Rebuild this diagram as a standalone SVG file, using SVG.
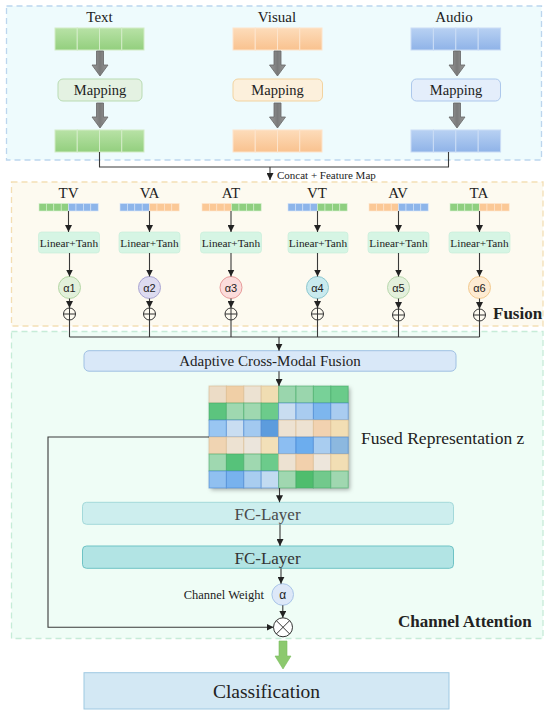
<svg xmlns="http://www.w3.org/2000/svg" width="550" height="715" viewBox="0 0 550 715">
<defs>
<style>
.serif{font-family:"Liberation Serif","Times New Roman",serif;fill:#222}
.sans{font-family:"Liberation Sans",Arial,sans-serif;fill:#222}
.ln{stroke:#3a3a3a;stroke-width:1.1;fill:none}
.arr{stroke:#3a3a3a;stroke-width:1.1;fill:none;marker-end:url(#ah)}
.gcell{fill:url(#gG);stroke:#d2ecc6;stroke-width:1}
.ocell{fill:url(#gO);stroke:#fde4cb;stroke-width:1}
.bcell{fill:url(#gB);stroke:#cadcf5;stroke-width:1}
.sg{fill:#8fcf80;stroke:#d8f0d0;stroke-width:0.6}
.so{fill:#fbc896;stroke:#fde6d0;stroke-width:0.6}
.sb{fill:#8db5ea;stroke:#d6e4f8;stroke-width:0.6}
.lt{fill:#d6f5e4;stroke:#c4ecd6;stroke-width:0.6}
.hg{stroke:#3fa862;stroke-opacity:0.55;stroke-width:1}
.hb{stroke:#3f7fd0;stroke-opacity:0.55;stroke-width:1}
.ho{stroke:#d8b88a;stroke-opacity:0.55;stroke-width:1}
.opl{fill:none;stroke:#333;stroke-width:1}
</style>
<marker id="ah" viewBox="0 0 10 10" refX="10" refY="5" markerWidth="7" markerHeight="7" markerUnits="userSpaceOnUse" orient="auto">
<path d="M0,0 L10,5 L0,10 Z" fill="#222"/>
</marker>
<linearGradient id="gG" x1="0" y1="0" x2="0" y2="1"><stop offset="0" stop-color="#b8e2a6"/><stop offset="1" stop-color="#93cf7e"/></linearGradient>
<linearGradient id="gO" x1="0" y1="0" x2="0" y2="1"><stop offset="0" stop-color="#fddcba"/><stop offset="1" stop-color="#f9c28f"/></linearGradient>
<linearGradient id="gB" x1="0" y1="0" x2="0" y2="1"><stop offset="0" stop-color="#b8d1f3"/><stop offset="1" stop-color="#8fb3e8"/></linearGradient>
<linearGradient id="gA" x1="0" y1="0" x2="1" y2="0"><stop offset="0" stop-color="#9a9a9a"/><stop offset="0.5" stop-color="#7a7a7a"/><stop offset="1" stop-color="#9a9a9a"/></linearGradient>
<filter id="sh" x="-10%" y="-10%" width="125%" height="125%"><feDropShadow dx="2" dy="2" stdDeviation="2" flood-color="#000" flood-opacity="0.3"/></filter>
<g id="garrow"><path d="M-3.5,0 H3.5 V14 H8 L0,25 L-8,14 H-3.5 Z" fill="url(#gA)" stroke="#666" stroke-width="0.8"/></g>
</defs>

<!-- panels -->
<rect x="6.5" y="6" width="535" height="154" fill="#eefbfd" stroke="#bcd6ee" stroke-width="1.3" stroke-dasharray="6,4"/>
<rect x="11.5" y="182" width="531.5" height="144" fill="#fdfaf0" stroke="#f3dfb5" stroke-width="1.3" stroke-dasharray="6,4"/>
<rect x="11.5" y="331.5" width="531.5" height="307" fill="#effdf6" stroke="#c6ecd8" stroke-width="1.3" stroke-dasharray="6,4"/>

<!-- Input modality columns -->
<g id="text-col">
<text class="serif" x="99.5" y="22" font-size="15" text-anchor="middle">Text</text>
<g><rect class="gcell" x="55" y="28" width="22.25" height="22"/><rect class="gcell" x="77.25" y="28" width="22.25" height="22"/><rect class="gcell" x="99.5" y="28" width="22.25" height="22"/><rect class="gcell" x="121.75" y="28" width="22.25" height="22"/></g>
<use href="#garrow" x="100" y="51"/>
<rect x="58" y="79" width="84" height="22" rx="5" fill="#e4f2e2" stroke="#b9dbb3"/>
<text class="serif" x="100" y="95" font-size="14.5" text-anchor="middle">Mapping</text>
<use href="#garrow" x="100" y="103"/>
<g><rect class="gcell" x="55" y="130" width="22.25" height="22"/><rect class="gcell" x="77.25" y="130" width="22.25" height="22"/><rect class="gcell" x="99.5" y="130" width="22.25" height="22"/><rect class="gcell" x="121.75" y="130" width="22.25" height="22"/></g>
</g>

<g id="visual-col">
<text class="serif" x="277" y="22" font-size="15" text-anchor="middle">Visual</text>
<g><rect class="ocell" x="233" y="28" width="22.25" height="22"/><rect class="ocell" x="255.25" y="28" width="22.25" height="22"/><rect class="ocell" x="277.5" y="28" width="22.25" height="22"/><rect class="ocell" x="299.75" y="28" width="22.25" height="22"/></g>
<use href="#garrow" x="277.5" y="51"/>
<rect x="233" y="79" width="89.5" height="22" rx="5" fill="#fcf0dc" stroke="#f2d3a0"/>
<text class="serif" x="277.5" y="95" font-size="14.5" text-anchor="middle">Mapping</text>
<use href="#garrow" x="277.5" y="103"/>
<g><rect class="ocell" x="233" y="130" width="22.25" height="22"/><rect class="ocell" x="255.25" y="130" width="22.25" height="22"/><rect class="ocell" x="277.5" y="130" width="22.25" height="22"/><rect class="ocell" x="299.75" y="130" width="22.25" height="22"/></g>
</g>

<g id="audio-col">
<text class="serif" x="454" y="22" font-size="15" text-anchor="middle">Audio</text>
<g><rect class="bcell" x="411" y="28" width="22.4" height="22"/><rect class="bcell" x="433.4" y="28" width="22.4" height="22"/><rect class="bcell" x="455.8" y="28" width="22.4" height="22"/><rect class="bcell" x="478.2" y="28" width="22.4" height="22"/></g>
<use href="#garrow" x="457" y="51"/>
<rect x="411.5" y="79" width="89" height="22" rx="5" fill="#e4eefb" stroke="#adc8ec"/>
<text class="serif" x="456" y="95" font-size="14.5" text-anchor="middle">Mapping</text>
<use href="#garrow" x="457" y="103"/>
<g><rect class="bcell" x="411" y="130" width="22.4" height="22"/><rect class="bcell" x="433.4" y="130" width="22.4" height="22"/><rect class="bcell" x="455.8" y="130" width="22.4" height="22"/><rect class="bcell" x="478.2" y="130" width="22.4" height="22"/></g>
</g>

<text class="serif" x="277" y="178.5" font-size="11">Concat + Feature Map</text>

<!-- Fusion pair columns -->
<g id="pair-TV">
<text class="serif" x="68.5" y="198" font-size="15" text-anchor="middle">TV</text>
<rect class="sg" x="39" y="203.5" width="7.4" height="7.5"/><rect class="sg" x="46.4" y="203.5" width="7.4" height="7.5"/><rect class="sg" x="53.8" y="203.5" width="7.4" height="7.5"/><rect class="sg" x="61.2" y="203.5" width="7.4" height="7.5"/>
<rect class="sb" x="68.6" y="203.5" width="7.4" height="7.5"/><rect class="sb" x="76" y="203.5" width="7.4" height="7.5"/><rect class="sb" x="83.4" y="203.5" width="7.4" height="7.5"/><rect class="sb" x="90.8" y="203.5" width="7.4" height="7.5"/>
<rect class="lt" x="38.5" y="232" width="61" height="21" rx="3"/>
<text class="serif" x="69" y="246.5" font-size="11.3" text-anchor="middle">Linear+Tanh</text>
<circle cx="69.5" cy="287.5" r="11" fill="#e2f0da" stroke="#b4d6a4"/>
<text class="sans" x="69.5" y="291.5" font-size="11" text-anchor="middle">α1</text>
<circle class="opl" cx="69.5" cy="314" r="6"/><path class="opl" d="M63.5,314 H75.5 M69.5,308 V320"/>
</g>

<g id="pair-VA">
<text class="serif" x="149.5" y="198" font-size="15" text-anchor="middle">VA</text>
<rect class="sb" x="120" y="203.5" width="7.4" height="7.5"/><rect class="sb" x="127.4" y="203.5" width="7.4" height="7.5"/><rect class="sb" x="134.8" y="203.5" width="7.4" height="7.5"/><rect class="sb" x="142.2" y="203.5" width="7.4" height="7.5"/>
<rect class="so" x="149.6" y="203.5" width="7.4" height="7.5"/><rect class="so" x="157" y="203.5" width="7.4" height="7.5"/><rect class="so" x="164.4" y="203.5" width="7.4" height="7.5"/><rect class="so" x="171.8" y="203.5" width="7.4" height="7.5"/>
<rect class="lt" x="119" y="232" width="61" height="21" rx="3"/>
<text class="serif" x="149.5" y="246.5" font-size="11.3" text-anchor="middle">Linear+Tanh</text>
<circle cx="149.5" cy="287.5" r="11" fill="#dddbf0" stroke="#aaa5d2"/>
<text class="sans" x="149.5" y="291.5" font-size="11" text-anchor="middle">α2</text>
<circle class="opl" cx="149.5" cy="314" r="6"/><path class="opl" d="M143.5,314 H155.5 M149.5,308 V320"/>
</g>

<g id="pair-AT">
<text class="serif" x="231" y="198" font-size="15" text-anchor="middle">AT</text>
<rect class="so" x="202" y="203.5" width="7.4" height="7.5"/><rect class="so" x="209.4" y="203.5" width="7.4" height="7.5"/><rect class="so" x="216.8" y="203.5" width="7.4" height="7.5"/><rect class="so" x="224.2" y="203.5" width="7.4" height="7.5"/>
<rect class="sg" x="231.6" y="203.5" width="7.4" height="7.5"/><rect class="sg" x="239" y="203.5" width="7.4" height="7.5"/><rect class="sg" x="246.4" y="203.5" width="7.4" height="7.5"/><rect class="sg" x="253.8" y="203.5" width="7.4" height="7.5"/>
<rect class="lt" x="200.5" y="232" width="61" height="21" rx="3"/>
<text class="serif" x="231" y="246.5" font-size="11.3" text-anchor="middle">Linear+Tanh</text>
<circle cx="231" cy="287.5" r="11" fill="#fbdcdb" stroke="#e79c9a"/>
<text class="sans" x="231" y="291.5" font-size="11" text-anchor="middle">α3</text>
<circle class="opl" cx="231" cy="314" r="6"/><path class="opl" d="M225,314 H237 M231,308 V320"/>
</g>

<g id="pair-VT">
<text class="serif" x="317" y="198" font-size="15" text-anchor="middle">VT</text>
<rect class="sb" x="288" y="203.5" width="7.4" height="7.5"/><rect class="sb" x="295.4" y="203.5" width="7.4" height="7.5"/><rect class="sb" x="302.8" y="203.5" width="7.4" height="7.5"/><rect class="sb" x="310.2" y="203.5" width="7.4" height="7.5"/>
<rect class="sg" x="317.6" y="203.5" width="7.4" height="7.5"/><rect class="sg" x="325" y="203.5" width="7.4" height="7.5"/><rect class="sg" x="332.4" y="203.5" width="7.4" height="7.5"/><rect class="sg" x="339.8" y="203.5" width="7.4" height="7.5"/>
<rect class="lt" x="288" y="232" width="60" height="21" rx="3"/>
<text class="serif" x="318" y="246.5" font-size="11.3" text-anchor="middle">Linear+Tanh</text>
<circle cx="317.5" cy="287.5" r="11" fill="#c9eaee" stroke="#8ec8d0"/>
<text class="sans" x="317.5" y="291.5" font-size="11" text-anchor="middle">α4</text>
<circle class="opl" cx="317.5" cy="314" r="6"/><path class="opl" d="M311.5,314 H323.5 M317.5,308 V320"/>
</g>

<g id="pair-AV">
<text class="serif" x="398" y="198" font-size="15" text-anchor="middle">AV</text>
<rect class="so" x="369" y="203.5" width="7.4" height="7.5"/><rect class="so" x="376.4" y="203.5" width="7.4" height="7.5"/><rect class="so" x="383.8" y="203.5" width="7.4" height="7.5"/><rect class="so" x="391.2" y="203.5" width="7.4" height="7.5"/>
<rect class="sb" x="398.6" y="203.5" width="7.4" height="7.5"/><rect class="sb" x="406" y="203.5" width="7.4" height="7.5"/><rect class="sb" x="413.4" y="203.5" width="7.4" height="7.5"/><rect class="sb" x="420.8" y="203.5" width="7.4" height="7.5"/>
<rect class="lt" x="368" y="232" width="61" height="21" rx="3"/>
<text class="serif" x="398.5" y="246.5" font-size="11.3" text-anchor="middle">Linear+Tanh</text>
<circle cx="398.5" cy="287.5" r="11" fill="#e4f0dc" stroke="#b9d8ad"/>
<text class="sans" x="398.5" y="291.5" font-size="11" text-anchor="middle">α5</text>
<circle class="opl" cx="398.5" cy="315" r="6"/><path class="opl" d="M392.5,315 H404.5 M398.5,309 V321"/>
</g>

<g id="pair-TA">
<text class="serif" x="479" y="198" font-size="15" text-anchor="middle">TA</text>
<rect class="sg" x="450" y="203.5" width="7.4" height="7.5"/><rect class="sg" x="457.4" y="203.5" width="7.4" height="7.5"/><rect class="sg" x="464.8" y="203.5" width="7.4" height="7.5"/><rect class="sg" x="472.2" y="203.5" width="7.4" height="7.5"/>
<rect class="so" x="479.6" y="203.5" width="7.4" height="7.5"/><rect class="so" x="487" y="203.5" width="7.4" height="7.5"/><rect class="so" x="494.4" y="203.5" width="7.4" height="7.5"/><rect class="so" x="501.8" y="203.5" width="7.4" height="7.5"/>
<rect class="lt" x="449" y="232" width="61" height="21" rx="3"/>
<text class="serif" x="479.5" y="246.5" font-size="11.3" text-anchor="middle">Linear+Tanh</text>
<circle cx="479.5" cy="287.5" r="11" fill="#fdebd2" stroke="#f2c98e"/>
<text class="sans" x="479.5" y="291.5" font-size="11" text-anchor="middle">α6</text>
<circle class="opl" cx="479.5" cy="315" r="6"/><path class="opl" d="M473.5,315 H485.5 M479.5,309 V321"/>
</g>

<text id="fusion-label" class="serif" x="493" y="319" font-size="17" font-weight="bold">Fusion</text>

<!-- Adaptive fusion -->
<g id="adaptive">
<rect x="84" y="350.7" width="372" height="20.5" rx="5" fill="#d9e8f8" stroke="#9fc0e3"/>
<text class="serif" x="270" y="366" font-size="15" text-anchor="middle">Adaptive Cross-Modal Fusion</text>
</g>

<!-- Heatmap -->
<g id="fused-z">
<g filter="url(#sh)">
<rect x="209" y="386" width="139" height="102" fill="#eee"/>
</g>
<g>
<rect class="ho" x="209" y="386" width="17.4" height="17" fill="#ecdcc6"/><rect class="ho" x="226.4" y="386" width="17.4" height="17" fill="#f0cfa6"/><rect class="ho" x="243.8" y="386" width="17.4" height="17" fill="#ece2d2"/><rect class="ho" x="261.2" y="386" width="17.4" height="17" fill="#f0ddb2"/>
<rect class="hg" x="278.6" y="386" width="17.4" height="17" fill="#9ad6ad"/><rect class="hg" x="296" y="386" width="17.4" height="17" fill="#9ad6ad"/><rect class="hg" x="313.4" y="386" width="17.4" height="17" fill="#78d198"/><rect class="hg" x="330.8" y="386" width="17.4" height="17" fill="#6acb8a"/>

<rect class="hg" x="209" y="403" width="17.4" height="17" fill="#5cc47e"/><rect class="hg" x="226.4" y="403" width="17.4" height="17" fill="#9fd8b0"/><rect class="hg" x="243.8" y="403" width="17.4" height="17" fill="#9fd8b0"/><rect class="hg" x="261.2" y="403" width="17.4" height="17" fill="#6ccb8b"/>
<rect class="hb" x="278.6" y="403" width="17.4" height="17" fill="#c9ddf1"/><rect class="hb" x="296" y="403" width="17.4" height="17" fill="#a9ccf0"/><rect class="hb" x="313.4" y="403" width="17.4" height="17" fill="#7db6ee"/><rect class="hb" x="330.8" y="403" width="17.4" height="17" fill="#a9ccf0"/>

<rect class="hb" x="209" y="420" width="17.4" height="17" fill="#99c6f2"/><rect class="hb" x="226.4" y="420" width="17.4" height="17" fill="#c9ddf1"/><rect class="hb" x="243.8" y="420" width="17.4" height="17" fill="#a2c9f0"/><rect class="hb" x="261.2" y="420" width="17.4" height="17" fill="#5c9cdd"/>
<rect class="ho" x="278.6" y="420" width="17.4" height="17" fill="#ede2d2"/><rect class="ho" x="296" y="420" width="17.4" height="17" fill="#ede2d2"/><rect class="ho" x="313.4" y="420" width="17.4" height="17" fill="#f2d2b0"/><rect class="ho" x="330.8" y="420" width="17.4" height="17" fill="#f2deb4"/>

<rect class="ho" x="209" y="437" width="17.4" height="17" fill="#f0d4b2"/><rect class="ho" x="226.4" y="437" width="17.4" height="17" fill="#ede2d2"/><rect class="ho" x="243.8" y="437" width="17.4" height="17" fill="#ebe5dc"/><rect class="ho" x="261.2" y="437" width="17.4" height="17" fill="#f2e0b8"/>
<rect class="hb" x="278.6" y="437" width="17.4" height="17" fill="#8cbef2"/><rect class="hb" x="296" y="437" width="17.4" height="17" fill="#6cadee"/><rect class="hb" x="313.4" y="437" width="17.4" height="17" fill="#a9cdf0"/><rect class="hb" x="330.8" y="437" width="17.4" height="17" fill="#8cb8df"/>

<rect class="hg" x="209" y="454" width="17.4" height="17" fill="#9fd8b0"/><rect class="hg" x="226.4" y="454" width="17.4" height="17" fill="#56c27a"/><rect class="hg" x="243.8" y="454" width="17.4" height="17" fill="#9fd8b0"/><rect class="hg" x="261.2" y="454" width="17.4" height="17" fill="#6ccb8b"/>
<rect class="ho" x="278.6" y="454" width="17.4" height="17" fill="#ede2d2"/><rect class="ho" x="296" y="454" width="17.4" height="17" fill="#f2d0ac"/><rect class="ho" x="313.4" y="454" width="17.4" height="17" fill="#ede6dc"/><rect class="ho" x="330.8" y="454" width="17.4" height="17" fill="#f2deb4"/>

<rect class="hb" x="209" y="471" width="17.4" height="17" fill="#90c0f0"/><rect class="hb" x="226.4" y="471" width="17.4" height="17" fill="#78b2ee"/><rect class="hb" x="243.8" y="471" width="17.4" height="17" fill="#a9cdf0"/><rect class="hb" x="261.2" y="471" width="17.4" height="17" fill="#c2dbf1"/>
<rect class="hg" x="278.6" y="471" width="17.4" height="17" fill="#a0d7b0"/><rect class="hg" x="296" y="471" width="17.4" height="17" fill="#4fbd6d"/><rect class="hg" x="313.4" y="471" width="17.4" height="17" fill="#72c98c"/><rect class="hg" x="330.8" y="471" width="17.4" height="17" fill="#a0d7b0"/>
</g>
<text class="serif" x="361" y="444" font-size="17.5">Fused Representation z</text>
</g>

<!-- Channel attention -->
<g id="fc1">
<rect x="82.5" y="502.3" width="371" height="22" rx="4" fill="#cdeeee" stroke="#a3d9da"/>
<text class="serif" x="267.5" y="519.5" font-size="17" text-anchor="middle" style="fill:#4a4a4a">FC-Layer</text>
</g>
<g id="fc2">
<rect x="82.5" y="546" width="371" height="22.3" rx="4" fill="#b2e4e4" stroke="#6ec3c5"/>
<text class="serif" x="267.5" y="563.5" font-size="17" text-anchor="middle" style="fill:#333">FC-Layer</text>
</g>
<g id="channel-weight">
<circle cx="282.7" cy="594.5" r="10.8" fill="#dde8f8" stroke="#a9c5e8"/>
<text class="sans" x="282.7" y="599" font-size="12" text-anchor="middle">α</text>
<text class="serif" x="264" y="598.5" font-size="12.5" text-anchor="end">Channel Weight</text>
</g>
<g id="multiply">
<circle cx="283" cy="627.3" r="9.5" fill="#fff" stroke="#333" stroke-width="1"/>
<path class="opl" d="M276.3,620.6 L289.7,634 M289.7,620.6 L276.3,634"/>
</g>
<text id="ca-label" class="serif" x="398" y="627" font-size="17" font-weight="bold">Channel Attention</text>

<g id="classification">
<path d="M279,641 H287 V656 H291 L283,669 L275,656 H279 Z" fill="#8cc96e" stroke="#7bbd5e" stroke-width="0.6"/>
<rect x="84" y="672.7" width="365" height="36.3" fill="#d3e8f4" stroke="#9ec9e2"/>
<text class="serif" x="266.5" y="697.5" font-size="19.5" text-anchor="middle">Classification</text>
</g>

<!-- connectors -->
<g id="connectors">
<path class="ln" d="M99.5,152 V167 H448.5 V152"/>
<path class="arr" d="M270,167 V180"/>
<path class="arr" d="M68.5,211 V232"/><path class="arr" d="M69.5,253 V276.5"/><path class="arr" d="M69.5,298.5 V308"/>
<path class="arr" d="M149.5,211 V232"/><path class="arr" d="M149.5,253 V276.5"/><path class="arr" d="M149.5,298.5 V308"/>
<path class="arr" d="M231,211 V232"/><path class="arr" d="M231,253 V276.5"/><path class="arr" d="M231,298.5 V308"/>
<path class="arr" d="M317.5,211 V232"/><path class="arr" d="M317.5,253 V276.5"/><path class="arr" d="M317.5,298.5 V308"/>
<path class="arr" d="M398.5,211 V232"/><path class="arr" d="M398.5,253 V276.5"/><path class="arr" d="M398.5,298.5 V309"/>
<path class="arr" d="M479.5,211 V232"/><path class="arr" d="M479.5,253 V276.5"/><path class="arr" d="M479.5,298.5 V309"/>
<path class="ln" d="M69.5,320 V337 M149.5,320 V337 M231,320 V337 M317.5,320 V337 M398.5,321 V337 M479.5,321 V337 M69.5,337 H479.5"/>
<path class="arr" d="M279,337 V350.7"/>
<path class="arr" d="M279,371.2 V386"/>
<path class="arr" d="M279.5,488 V502.3"/>
<path class="arr" d="M280,524.3 V546"/>
<path class="arr" d="M281,568.3 V583.7"/>
<path class="arr" d="M282.8,605.3 V617.8"/>
<path class="arr" d="M209,437 H48 V627.3 H273.5"/>
</g>
</svg>
